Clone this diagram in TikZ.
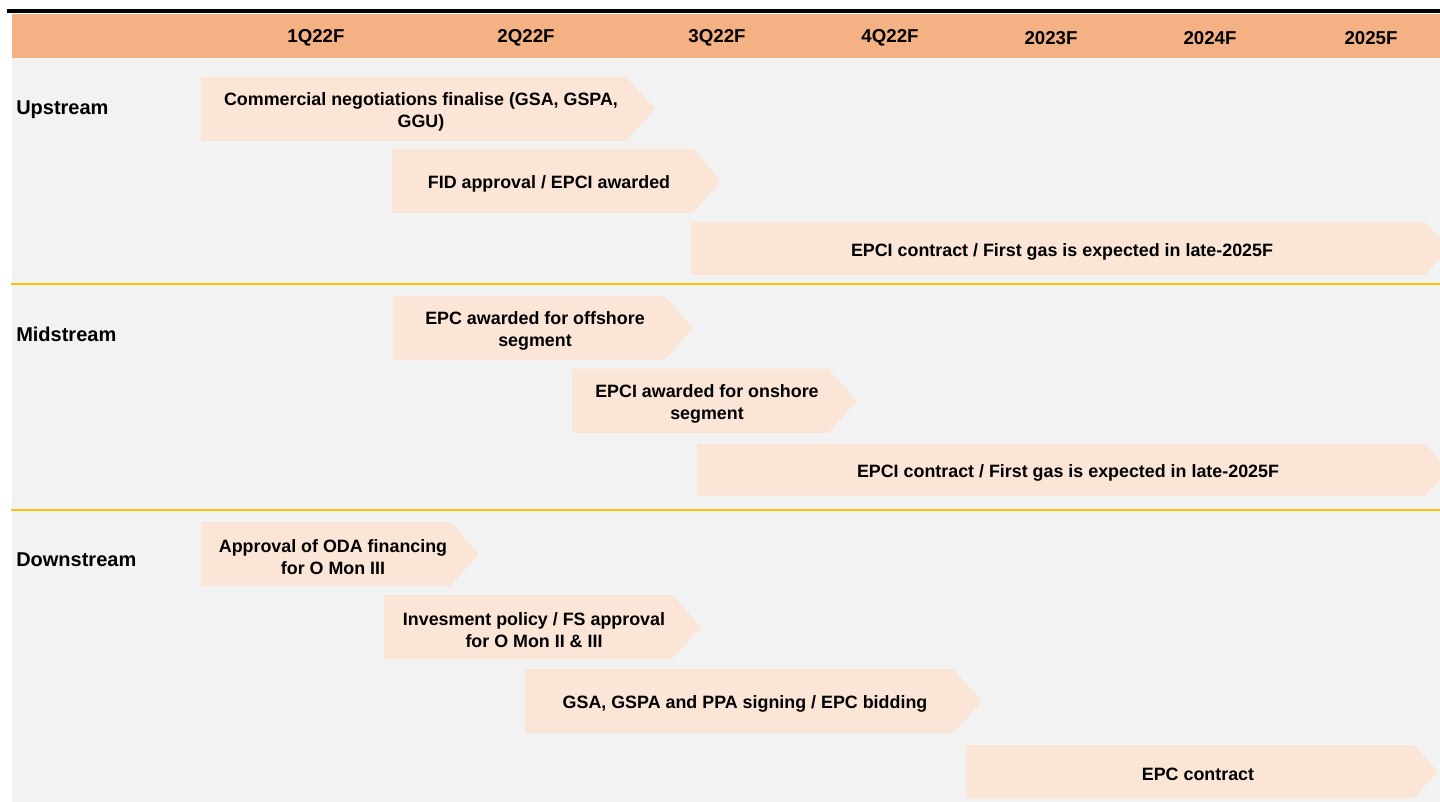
\documentclass[tikz,border=0pt]{standalone}
\usepackage{fontspec}
\setmainfont{Liberation Sans}
\definecolor{bandorange}{HTML}{F4B183}
\definecolor{bgray}{HTML}{F2F2F2}
\definecolor{barfill}{HTML}{FBE5D6}
\definecolor{sepyellow}{HTML}{FFC000}
\newcommand\tlbar[8]{%
  \fill[barfill] (#2,#5) -- (#3,#5) -- (#4,{(#5+#6)/2}) -- (#3,#6) -- (#2,#6) -- cycle;
  \node[bartext] (#1) at (#7,{(#5+#6)/2+3}) {#8};
}
\begin{document}
\begin{tikzpicture}[x=0.75pt,y=-0.75pt,
  bartext/.style={font=\bfseries\fontsize{13.4}{16.5}\selectfont, align=center, inner sep=0pt, text=black},
  hdr/.style={font=\bfseries\fontsize{14}{16}\selectfont, inner sep=0pt},
  rowlab/.style={font=\bfseries\fontsize{15}{18}\selectfont, anchor=west, inner sep=0pt},
  sep/.style={draw=sepyellow, line width=1.5pt}]
\useasboundingbox (0,0) rectangle (1440,802);
\begin{scope}
\clip (0,0) rectangle (1440,802);
\fill[white] (0,0) rectangle (1440,802);
\fill[bgray] (12,58) rectangle (1440,802);
\fill[bandorange] (12,14) rectangle (1440,58);
\coordinate (bl) at (7,11);
\coordinate (br) at (1440,11);
\draw[line width=3pt] (bl) -- (br);
% header
\node[hdr] (h1) at (316,38) {1Q22F};
\node[hdr] (h2) at (526,38) {2Q22F};
\node[hdr] (h3) at (717,38) {3Q22F};
\node[hdr] (h4) at (890,38) {4Q22F};
\node[hdr] (h5) at (1051,38) {2023F};
\node[hdr] (h6) at (1210,38) {2024F};
\node[hdr] (h7) at (1371,38) {2025F};
% separators
\coordinate (s1l) at (11,284); \coordinate (s1r) at (1440,284);
\coordinate (s2l) at (11,510); \coordinate (s2r) at (1440,510);
\draw[sep] (s1l) -- (s1r);
\draw[sep] (s2l) -- (s2r);
% row labels
\node[rowlab] (up) at (16,110) {Upstream};
\node[rowlab] (mid) at (16,334) {Midstream};
\node[rowlab] (down) at (16,560) {Downstream};
% bars
\tlbar{a1}{201}{626}{655}{77}{141}{421}{Commercial negotiations finalise (GSA, GSPA,\\GGU)}
\tlbar{a2}{392}{693}{721}{149}{213}{549}{FID approval / EPCI awarded}
\tlbar{a3}{691}{1425}{1449}{222}{275}{1062}{EPCI contract / First gas is expected in late-2025F}
\tlbar{b1}{393}{664}{693}{296}{360}{535}{EPC awarded for offshore\\segment}
\tlbar{b2}{572}{828}{857}{369}{433}{707}{EPCI awarded for onshore\\segment}
\tlbar{b3}{697}{1425}{1449}{444}{496}{1068}{EPCI contract / First gas is expected in late-2025F}
\tlbar{c1}{201}{450}{479}{522}{586}{333}{Approval of ODA financing\\for O Mon III}
\tlbar{c2}{384}{672}{701}{595}{659}{534}{Invesment policy / FS approval\\for O Mon II \& III}
\tlbar{c3}{525}{953}{982}{669}{733}{745}{GSA, GSPA and PPA signing / EPC bidding}
\tlbar{c4}{966}{1414}{1438}{745}{798}{1198}{EPC contract}
\end{scope}
\end{tikzpicture}
\end{document}
